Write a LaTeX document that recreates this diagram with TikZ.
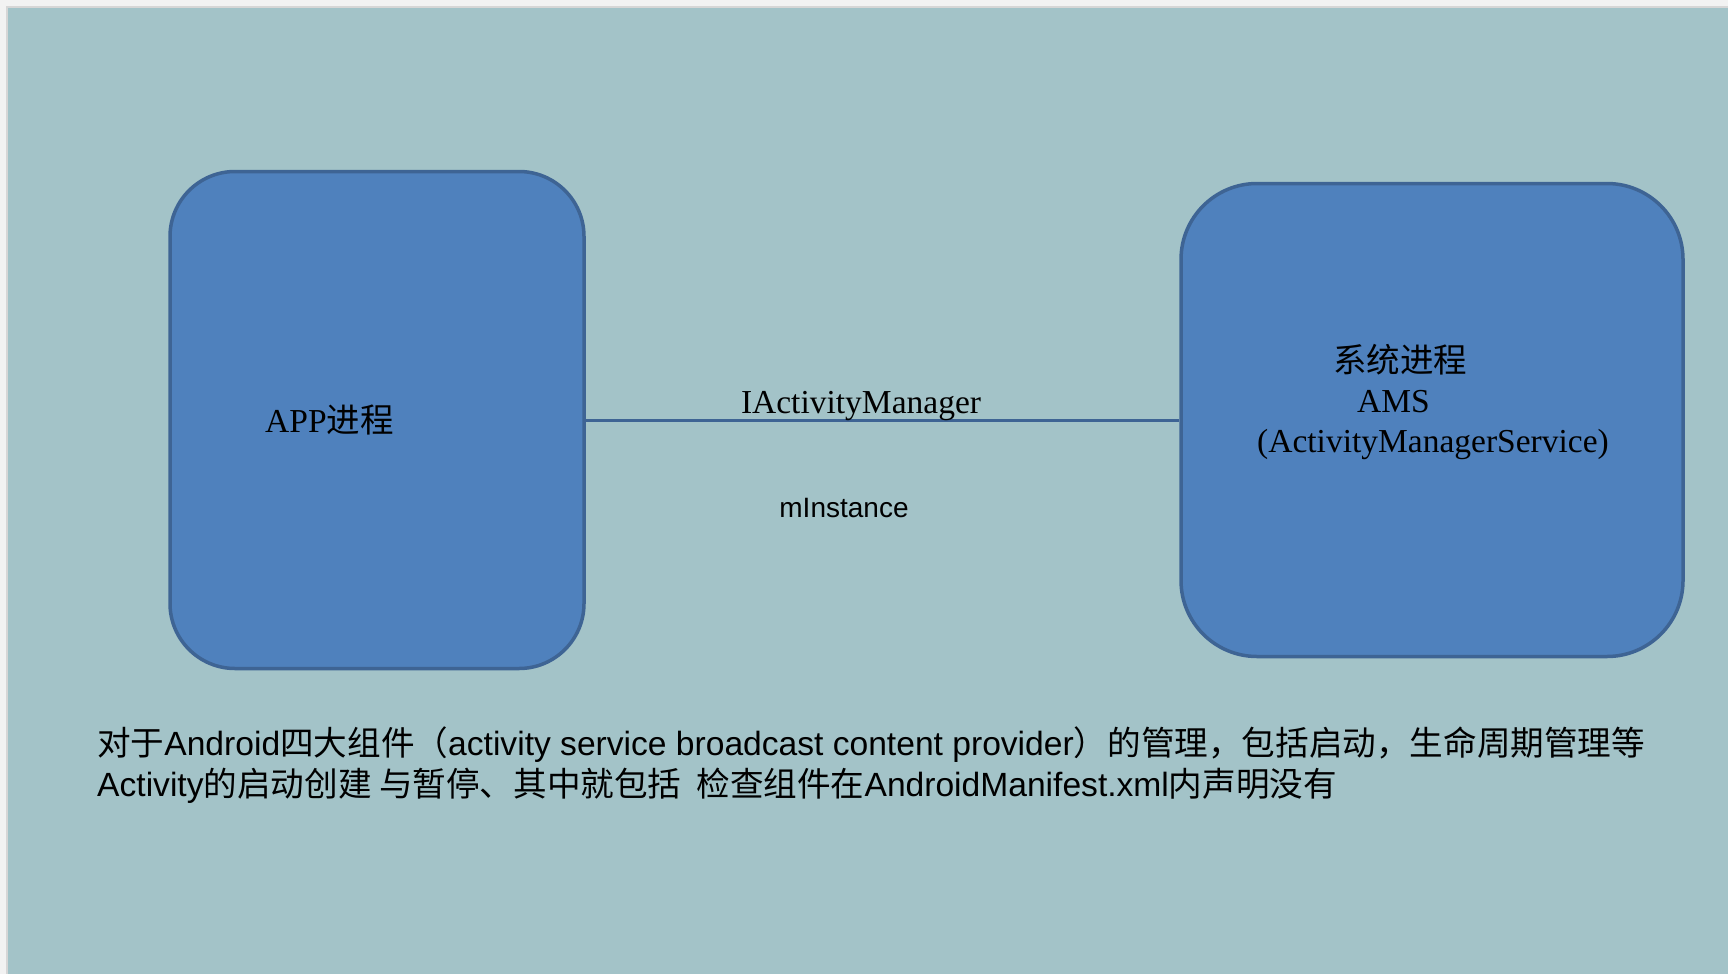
\documentclass[tikz,border=0pt]{standalone}
\usepackage{fontspec}
\setmainfont{Liberation Serif}
\setsansfont{Liberation Sans}
\newfontfamily\cjk{Noto Sans CJK SC}
\definecolor{outerc}{HTML}{F2F2F2}
\definecolor{edgec}{HTML}{D6D6D6}
\definecolor{bgc}{HTML}{A3C3C8}
\definecolor{boxfill}{HTML}{4F81BD}
\definecolor{boxline}{HTML}{3E6494}
\tikzset{
  procbox/.style={draw=boxline, fill=boxfill, line width=3.5pt, inner sep=0pt},
  conn/.style={draw=boxline, line width=3pt},
  serifl/.style={inner sep=0pt, font=\fontsize{33.5}{40}\selectfont\rmfamily},
  sansl/.style={inner sep=0pt, font=\fontsize{33.6}{38}\selectfont\sffamily},
}
\begin{document}
\begin{tikzpicture}[x=1pt,y=-1pt]
\useasboundingbox (0,0) rectangle (1728,974);
\fill[outerc] (0,0) rectangle (1728,974);
\fill[edgec] (6,6) rectangle (1728,974);
\fill[bgc] (8,8) rectangle (1728,974);
\node[procbox, minimum width=414pt, minimum height=497pt, rounded corners=65pt] (app) at (377,420) {};
\node[procbox, minimum width=502pt, minimum height=473pt, rounded corners=76pt] (ams) at (1432,420) {};
\draw[conn] (app.east) -- (ams.west);
\node[serifl, anchor=base west] (appt) at (265,432) {APP{\cjk 进程}};
\node[serifl, anchor=base] (iam) at (861,413) {IActivityManager};
\node[inner sep=0pt, font=\fontsize{28}{32}\selectfont\sffamily, anchor=base] (minst) at (844,517) {mInstance};
\node[serifl, anchor=base west] (sys) at (1333,372) {\cjk 系统进程};
\node[serifl, anchor=base west] (amst) at (1357,412) {AMS};
\node[serifl, anchor=base west] (amsf) at (1257,452) {(ActivityManagerService)};
\node[sansl, anchor=base west] (l1) at (97,755) {{\cjk 对于}Android{\cjk 四大组件（}activity service broadcast content provider{\cjk ）的管理，包括启动，生命周期管理等}};
\node[sansl, anchor=base west] (l2) at (97,796) {Activity{\cjk 的启动创建 与暂停、其中就包括\ \ 检查组件在}AndroidManifest.xml{\cjk 内声明没有}};
\end{tikzpicture}
\end{document}
